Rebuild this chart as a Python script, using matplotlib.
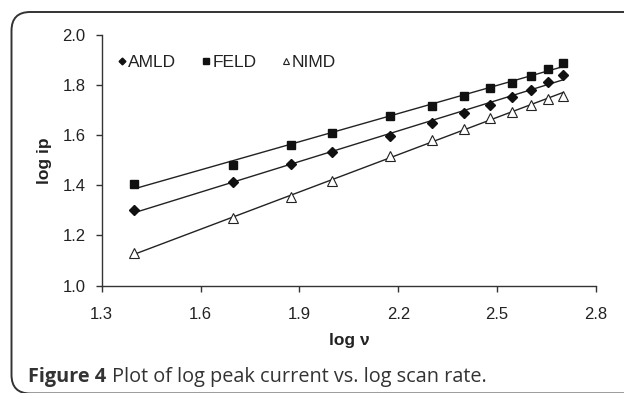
import matplotlib
matplotlib.use("Agg")
import matplotlib.pyplot as plt
from matplotlib.patches import FancyBboxPatch
import numpy as np

plt.rcParams['font.family'] = ['Liberation Sans', 'DejaVu Sans']

# scan rates (mV/s) -> log v
scan_rate = [25, 50, 75, 100, 150, 200, 250, 300, 350, 400, 450, 500]
amld = [1.300, 1.415, 1.487, 1.531, 1.598, 1.650, 1.688, 1.722, 1.752, 1.782, 1.814, 1.840]
feld = [1.407, 1.482, 1.561, 1.607, 1.678, 1.717, 1.756, 1.788, 1.809, 1.837, 1.864, 1.889]
nimd = [1.128, 1.268, 1.354, 1.418, 1.517, 1.581, 1.625, 1.669, 1.693, 1.722, 1.745, 1.758]
xticks = [1.3, 1.6, 1.9, 2.2, 2.5, 2.8]
yticks = [1.0, 1.2, 1.4, 1.6, 1.8, 2.0]

logv = np.log10(scan_rate)
W, H = 624, 393

fig = plt.figure(figsize=(W / 100, H / 100), dpi=100)
ax = fig.add_axes([101.7 / W, 1 - 285.5 / H, (596 - 101.7) / W, (285.5 - 35) / H])

series = [
    ("AMLD", amld, dict(marker="D", ms=4.6, mfc="#111", mec="#111")),
    ("FELD", feld, dict(marker="s", ms=5.3, mfc="#111", mec="#111")),
    ("NIMD", nimd, dict(marker="^", ms=6.5, mfc="white", mec="#222", mew=0.8)),
]

for name, y, st in series:
    ax.plot(logv, y, ls="none", label=name, **st)
    k, b = np.polyfit(logv, y, 1)
    x0 = logv[0] + (0.015 if name == "FELD" else 0)
    xs = np.array([x0, logv[-1]])
    ax.plot(xs, k * xs + b, color="#222", lw=1.0, zorder=1)

ax.set_xlim(1.3, 2.8)
ax.set_ylim(1.0, 2.0)
ax.set_xticks(xticks)
ax.set_yticks(yticks)
ax.set_xticklabels([f"{t:.1f}" for t in xticks])
ax.set_yticklabels([f"{t:.1f}" for t in yticks])
for s in ["top", "right"]:
    ax.spines[s].set_visible(False)
for s in ["left", "bottom"]:
    ax.spines[s].set_color("#333")
    ax.spines[s].set_linewidth(1.0)
ax.tick_params(direction="out", length=4.5, width=1.0, color="#333",
               labelsize=12, labelcolor="#222")
ax.tick_params(axis="y", pad=7)
ax.tick_params(axis="x", pad=11)

ax.set_xlabel("log ν", fontsize=12.5, fontweight="bold", color="#222", va="center")
ax.set_ylabel("log ip", fontsize=12.5, fontweight="bold", color="#222", va="center")
ax.xaxis.set_label_coords(0.5, (285.5 - 341) / 250.5)
ax.yaxis.set_label_coords((45 - 101.7) / 494.3, 0.5)

leg = ax.legend(loc="center left", bbox_to_anchor=(0.033, 0.89), ncol=3, frameon=False,
                fontsize=12.5, handlelength=0.5, handletextpad=0.1, columnspacing=1.45,
                labelcolor="#222", borderaxespad=0, borderpad=0, markerscale=0.75)

# rounded frame around the figure panel
frame = FancyBboxPatch((11.5 / W, -0.5 / H), (W + 30) / W, (H - 11.5) / H,
                       boxstyle="round,pad=0,rounding_size=0.03",
                       transform=fig.transFigure, fill=False,
                       edgecolor="#333", lw=1.4, mutation_aspect=W / H)
fig.patches.append(frame)

t1 = fig.text(28 / W, 1 - 377 / H, "Figure 4", fontsize=14.3, fontweight="bold",
              family="Open Sans", color="#333", va="center")
fig.canvas.draw()
bb = t1.get_window_extent()
fig.text((bb.x1 + 6) / W, 1 - 377 / H, "Plot of log peak current vs. log scan rate.",
         fontsize=14.3, family="Open Sans", color="#333", va="center")

fig.savefig("out.png", dpi=100)
